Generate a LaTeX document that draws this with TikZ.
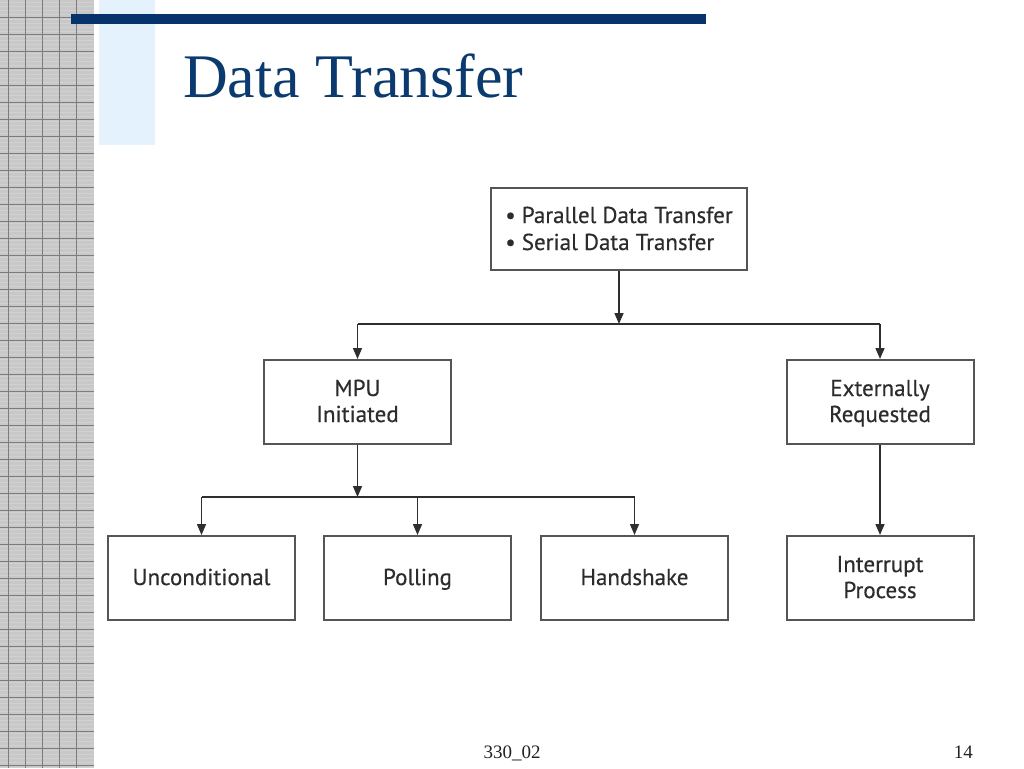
\documentclass[tikz,border=0pt]{standalone}
\usepackage{fontspec}
\setmainfont{Liberation Serif}
\newfontfamily\boxfont[FakeBold=0.4]{PT Sans}
\usetikzlibrary{arrows.meta}
\newcommand\bxstrut{\rule[-6pt]{0pt}{26pt}}
\newcommand\tpstrut{\rule[-6pt]{0pt}{27pt}}
\definecolor{navy}{HTML}{06336B}
\definecolor{titleblue}{HTML}{0B3A6E}
\definecolor{paleblue}{HTML}{E3F2FC}
\definecolor{gridbase}{HTML}{C8C8C8}
\definecolor{gridfaint}{HTML}{D1D1D1}
\definecolor{griddark}{HTML}{7C7C7C}
\definecolor{boxline}{HTML}{555555}
\definecolor{connline}{HTML}{2E2E2E}
\definecolor{boxtext}{HTML}{2C2C2C}
\definecolor{foottext}{HTML}{222222}
\tikzset{
  stepbox/.style={draw=boxline, line width=2pt, rectangle, minimum width=187pt, minimum height=84pt,
    inner sep=0pt, align=center, text=boxtext, font=\boxfont\fontsize{23}{26}\selectfont},
  conn/.style={draw=connline, line width=1.5pt},
  connarrow/.style={conn, -{Triangle[length=11pt,width=9pt]}},
}
\begin{document}
\begin{tikzpicture}[x=1pt,y=-1pt]
\useasboundingbox (0,0) rectangle (1024,768);
\fill[white] (0,0) rectangle (1024,768);
% left grid strip
\fill[gridbase] (0,0) rectangle (94,768);
\foreach \i in {0,...,180} {
  \draw[gridfaint, line width=0.6pt] (0,{\i*4.25+2}) -- (94,{\i*4.25+2});
}
\foreach \i in {1,...,45} {
  \draw[griddark, line width=0.8pt] (0,{\i*17}) -- (94,{\i*17});
}
\foreach \i in {0,...,4} {
  \draw[griddark, line width=0.8pt] ({8.3+\i*17},0) -- ({8.3+\i*17},768);
}
% pale blue strip
\fill[paleblue] (99,0) rectangle (155,145);
% top bar
\fill[navy] (71,14) rectangle (706,24);
% title
\node[anchor=base west, inner sep=0pt, text=titleblue, font=\fontsize{62}{70}\selectfont] (title) at (183,97) {Data Transfer};
% boxes
\node[stepbox, minimum width=256pt, minimum height=82pt, align=left, font=\boxfont\fontsize{23}{27}\selectfont] (top) at (619,229) {\tpstrut• Parallel Data Transfer\\\tpstrut• Serial Data Transfer};
\node[stepbox] (mpu) at (357.5,402) {\bxstrut MPU\\\bxstrut Initiated};
\node[stepbox] (ext) at (880,402) {\bxstrut Externally\\\bxstrut Requested};
\node[stepbox] (unc) at (201.5,578) {\bxstrut Unconditional};
\node[stepbox] (pol) at (417.5,578) {\bxstrut Polling};
\node[stepbox] (hand) at (634.5,578) {\bxstrut Handshake};
\node[stepbox] (intr) at (880,578) {\bxstrut Interrupt\\\bxstrut Process};
% junctions
\coordinate (j1) at (619,324);
\coordinate (j2) at (357.5,497);
\draw[connarrow] (top.south) -- (j1);
\draw[conn] (mpu.north |- j1) -- (ext.north |- j1);
\draw[connarrow] (mpu.north |- j1) -- (mpu.north);
\draw[connarrow] (ext.north |- j1) -- (ext.north);
\draw[connarrow] (mpu.south) -- (j2);
\draw[conn] (unc.north |- j2) -- (hand.north |- j2);
\draw[connarrow] (unc.north |- j2) -- (unc.north);
\draw[connarrow] (pol.north |- j2) -- (pol.north);
\draw[connarrow] (hand.north |- j2) -- (hand.north);
\draw[connarrow] (ext.south) -- (intr.north);
% footer
\node[anchor=base, inner sep=0pt, font=\fontsize{19}{22}\selectfont, text=foottext] (foot) at (512,758) {330\_02};
\node[anchor=base east, inner sep=0pt, font=\fontsize{19}{22}\selectfont, text=foottext] (page) at (973,758) {14};
\end{tikzpicture}
\end{document}
